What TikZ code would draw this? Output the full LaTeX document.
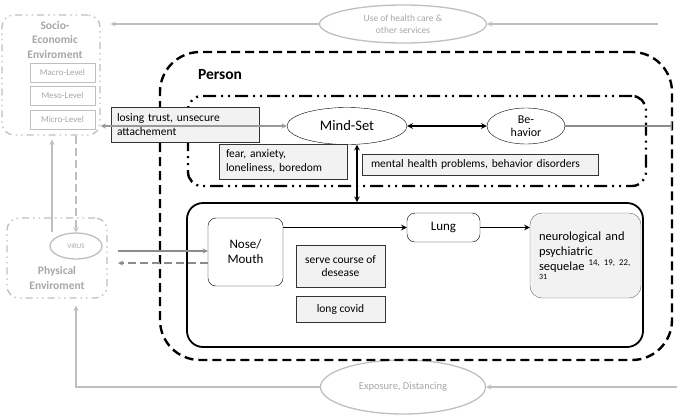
\documentclass[tikz,border=0pt]{standalone}
\usepackage{fontspec}
\setmainfont{Carlito}
\usetikzlibrary{shapes.geometric, arrows, positioning, fit}
\definecolor{envgray}{HTML}{BFBFBF}
\definecolor{envtext}{HTML}{A6A6A6}
\definecolor{notefill}{HTML}{F2F2F2}
\definecolor{linkgray}{HTML}{8C8C8C}
\tikzstyle{envbox} = [rectangle, rounded corners=12pt, draw=envgray, line width=1.3pt, dash pattern=on 7pt off 4pt on 1.5pt off 4pt on 1.5pt off 4pt]
\tikzstyle{levelbox} = [rectangle, draw=envgray, minimum width=65pt, minimum height=19pt, inner sep=0pt, text=envtext, font=\fontsize{9}{10}\selectfont]
\tikzstyle{envell} = [ellipse, draw=envgray, line width=1.3pt, inner sep=0pt, text=envtext, align=center]
\tikzstyle{envlabel} = [text=envtext, align=center, font=\fontsize{11.5}{14.5}\selectfont\bfseries]
\tikzstyle{personbox} = [rectangle, rounded corners=40pt, draw=black, line width=2.4pt, dash pattern=on 9pt off 5pt]
\tikzstyle{mindbox} = [rectangle, rounded corners=14pt, draw=black, line width=2.4pt, dash pattern=on 13pt off 5pt on 2pt off 5pt on 2pt off 5pt]
\tikzstyle{note} = [rectangle, draw=black!80, fill=notefill, inner sep=6pt, align=left, font=\fontsize{11.5}{13.5}\selectfont]
\tikzstyle{organ} = [rectangle, rounded corners=8pt, draw=black, align=center, font=\fontsize{13}{15}\selectfont]
\tikzstyle{mind} = [ellipse, draw=black, inner sep=0pt, align=center]
\tikzstyle{arrow} = [line width=1.5pt,->,>=stealth]
\tikzstyle{envarrow} = [line width=1.3pt, draw=envgray,->,>=stealth]
\tikzstyle{linkarrow} = [line width=1.3pt, draw=linkgray,->,>=stealth]
\begin{document}
\begin{tikzpicture}[x=1pt, y=-1pt, node distance=9pt]
\useasboundingbox (0,0) rectangle (677,416);

% surrounding environments
\node (socio) [envbox, minimum width=98pt, minimum height=120pt] at (51,75) {};
\node (sociotext) [envlabel] at (55,40) {Socio-\\Economic\\Enviroment};
\node (macro) [levelbox] at (62.5,72.5) {Macro-Level};
\node (meso) [levelbox, below=4pt of macro] {Meso-Level};
\node (micro) [levelbox, below=4pt of meso] {Micro-Level};

\node (phys) [envbox, minimum width=100pt, minimum height=80pt] at (57,258) {};
\node (virus) [envell, minimum width=52pt, minimum height=26pt, font=\fontsize{7}{8}\selectfont] at (76,246) {VIRUS};
\node (phystext) [envlabel] at (57,278) {Physical\\Enviroment};

\node (care) [envell, minimum width=167pt, minimum height=38pt, font=\fontsize{9.5}{12}\selectfont] at (403,24) {Use of health care \&\\other services};
\node (expo) [envell, minimum width=165pt, minimum height=54pt, font=\fontsize{10.5}{12}\selectfont] at (403,387) {Exposure, Distancing};
\coordinate (careend) at (658,24);
\coordinate (expoend) at (677,387);
\coordinate (physup) at (52,232);
\coordinate (physout) at (118,251);
\coordinate (physback) at (118,263);

% person
\node (person) [personbox, minimum width=512pt, minimum height=308pt] at (416,206) {};
\node (personlabel) [font=\fontsize{15.5}{17}\selectfont\bfseries] at (220,75) {Person};

\node (mindbox) [mindbox, minimum width=458pt, minimum height=90pt] at (417,141) {};
\node (mindset) [mind, minimum width=120pt, minimum height=37pt, font=\fontsize{14.5}{16}\selectfont] at (347,126) {Mind-Set};
\node (behavior) [mind, minimum width=78pt, minimum height=36pt, font=\fontsize{12}{13.5}\selectfont] at (526,126) {Be-\\havior};
\coordinate (behaviorend) at (672,126);

\node (trust) [note, minimum width=148pt, minimum height=35pt, text width=136pt] at (185,124.5) {losing trust, unsecure\\attachement};
\node (fear) [note, minimum width=128pt, minimum height=35pt, text width=114pt] at (283,161.5) {fear, anxiety,\\loneliness, boredom};
\node (mental) [note, minimum width=236pt, minimum height=21pt, inner sep=2pt, text width=218pt] at (480,164.5) {mental health problems, behavior disorders};

% body
\node (body) [rectangle, rounded corners=16pt, draw=black, line width=1.8pt, minimum width=456pt, minimum height=144pt] at (415,275) {};
\node (nose) [organ, minimum width=75pt, minimum height=68pt] at (245.5,252) {Nose/\\Mouth};
\node (lung) [organ, minimum width=73pt, minimum height=29pt] at (443.5,227.5) {Lung};
\node (course) [note, minimum width=89pt, minimum height=42pt, inner sep=2pt, align=center] at (340.5,266) {serve course of\\desease};
\node (longcovid) [note, minimum width=89pt, minimum height=26pt, inner sep=2pt, below=of course] {long covid};
\node (neuro) [organ, draw=black!60, fill=notefill, rounded corners=12pt, minimum width=111pt, minimum height=85pt, text width=93pt, align=left, font=\fontsize{12.5}{15}\selectfont] at (585.5,255.5) {neurological and\\psychiatric\\sequelae \textsuperscript{14, 19, 22,}\\[-6pt]{\fontsize{8}{9}\selectfont 31}};

% connectors
\draw [envarrow] (careend) -- (care.east);
\draw [envarrow, shorten >=10pt] (care.west) -- (socio.east |- care.west);
\draw [envarrow] (expoend) -- (expo.east);
\draw [envarrow, shorten >=7pt] (expo.west) -| (phys.south -| virus.south);
\draw [envarrow, shorten >=4pt] (physup) -- (socio.south -| physup);
\draw [envarrow, dash pattern=on 8pt off 4pt] (socio.south -| virus.north) -- (virus.north);

\draw [linkarrow] (physout) -- (physout -| nose.west);
\draw [linkarrow, dash pattern=on 8pt off 4pt] (physback -| nose.west) -- (physback);
\draw [linkarrow, <->, draw=black!40] (socio.east |- mindset.west) -- (mindset.west);

\draw [arrow, <->] (mindset) -- (behavior);
\draw [line width=1.5pt, draw=black!45, -|] (behavior.east) -- (behaviorend);
\draw [arrow, <->] ([xshift=10pt]mindset.south) -- ([xshift=10pt]mindset.south |- body.north);
\draw [arrow] (nose.east |- lung.west) -- (lung.west);
\draw [arrow] (lung.east) -- (neuro.west |- lung.east);
\end{tikzpicture}
\end{document}
